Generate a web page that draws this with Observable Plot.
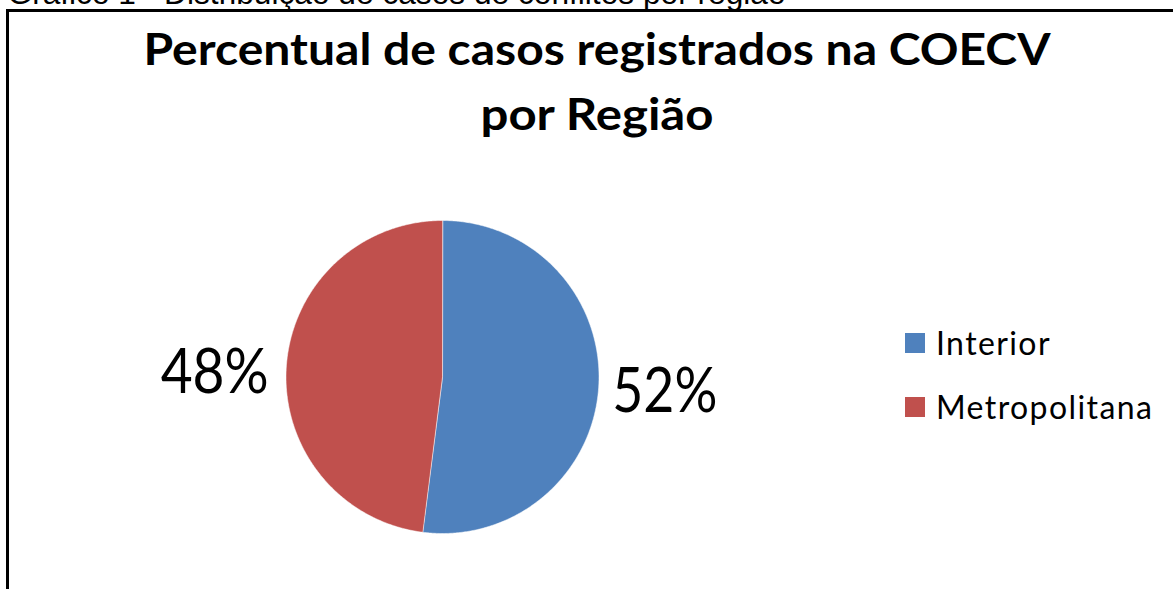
<!DOCTYPE html>
<html>
<head>
<meta charset="utf-8">
<script src="https://cdn.jsdelivr.net/npm/d3@7"></script>
<script src="https://cdn.jsdelivr.net/npm/@observablehq/plot@0.6"></script>
<style>
html, body { margin: 0; padding: 0; background: #fff; }
#wrap { position: relative; width: 1173px; height: 589px; overflow: hidden; background: #fff; }
#box { position: absolute; left: 6px; top: 9px; width: 1200px; height: 640px; border: 3px solid #000; box-sizing: border-box; }
#chart { position: absolute; left: 0; top: 0; }
#legend { position: absolute; left: 905px; top: 323px; }
#legend .lg-swatches { font-family: Lato, sans-serif; font-size: 32px; color: #000; margin: 0; }
#legend .lg-swatch { margin-bottom: 24px; }
#legend .lg-swatch > svg { margin-right: 11px !important; }
#legend .lg-swatch-label { overflow: visible !important; letter-spacing: 1.4px; }
</style>
</head>
<body>
<div id="wrap">
  <div id="box"></div>
  <div id="chart"></div>
  <div id="legend"></div>
</div>
<script>
// ---- data ----
const regions = ["Interior", "Metropolitana"];
const shares = [52, 48];
const pctLabels = ["52%", "48%"];
const colors = ["#4F81BD", "#C0504D"];
const titleLines = ["Percentual de casos registrados na COECV", "por Região"];
const captionText = "Gráfico 1 - Distribuição de casos de conflitos por região";

// ---- derived geometry (from the data) ----
const arcs = d3.pie().sort(null).value(d => d)(shares);
const slices = regions.map((r, i) => ({
  region: r,
  share: shares[i],
  label: pctLabels[i],
  a0: arcs[i].startAngle,
  a1: arcs[i].endAngle,
  mid: (arcs[i].startAngle + arcs[i].endAngle) / 2
}));
const outline = slices.flatMap(s => {
  const n = Math.max(2, Math.ceil((s.a1 - s.a0) / (Math.PI / 360)));
  const pts = [{region: s.region, x: 0, y: 0}];
  for (let k = 0; k <= n; k++) {
    const a = s.a0 + (s.a1 - s.a0) * k / n;
    pts.push({region: s.region, x: Math.sin(a), y: Math.cos(a)});
  }
  return pts;
});

const cx = 442, cy = 376.5, R = 156.5;

const plot = Plot.plot({
  width: 1173,
  height: 589,
  margin: 0,
  style: {background: "transparent", overflow: "visible"},
  x: {domain: [-1, 1], range: [cx - R, cx + R], axis: null},
  y: {domain: [-1, 1], range: [cy + R, cy - R], axis: null},
  color: {domain: regions, range: colors},
  marks: [
    Plot.line(outline, {x: "x", y: "y", z: "region", fill: "region", stroke: "#ffffff", strokeWidth: 1, strokeOpacity: 0.5, curve: "linear-closed"}),
    Plot.text(slices.filter(d => Math.sin(d.mid) >= 0), {
      x: d => Math.sin(d.mid) * 1.1, y: d => Math.cos(d.mid) * 1.1, text: "label",
      textAnchor: "start", lineAnchor: "middle", dx: -2, dy: 5,
      fontSize: 61, fontFamily: "Lato, sans-serif", fill: "#000"
    }),
    Plot.text(slices.filter(d => Math.sin(d.mid) < 0), {
      x: d => Math.sin(d.mid) * 1.1, y: d => Math.cos(d.mid) * 1.1, text: "label",
      textAnchor: "end", lineAnchor: "middle", dx: -2, dy: 7,
      fontSize: 61, fontFamily: "Lato, sans-serif", fill: "#000"
    }),
    Plot.text([titleLines[0]], {text: d => d, frameAnchor: "top", dx: 10, dy: 64, lineAnchor: "bottom", fontSize: 44, fontWeight: "bold", fontFamily: "Lato, sans-serif", fill: "#000"}),
    Plot.text([titleLines[1]], {text: d => d, frameAnchor: "top", dx: 10, dy: 129, lineAnchor: "bottom", fontSize: 44, fontWeight: "bold", fontFamily: "Lato, sans-serif", fill: "#000"}),
    Plot.text([captionText], {text: d => d, frameAnchor: "top-left", dx: 7, dy: 3, textAnchor: "start", lineAnchor: "bottom", fontSize: 32, fontFamily: "'Liberation Sans', Arial, sans-serif", fill: "#000"})
  ]
});

// fit text widths to the reference layout
const textLengths = new Map([
  [titleLines[0], 907],
  [titleLines[1], 233],
  [captionText, 778],
  ["52%", 105],
  ["48%", 108]
]);
d3.select(plot).selectAll("text").each(function() {
  const L = textLengths.get(this.textContent);
  if (L) {
    this.setAttribute("textLength", L);
    this.setAttribute("lengthAdjust", "spacingAndGlyphs");
  }
});

document.getElementById("chart").appendChild(plot);

const legend = plot.legend("color", {swatchSize: 20, columns: 1, className: "lg"});
document.getElementById("legend").appendChild(legend);
</script>
</body>
</html>
